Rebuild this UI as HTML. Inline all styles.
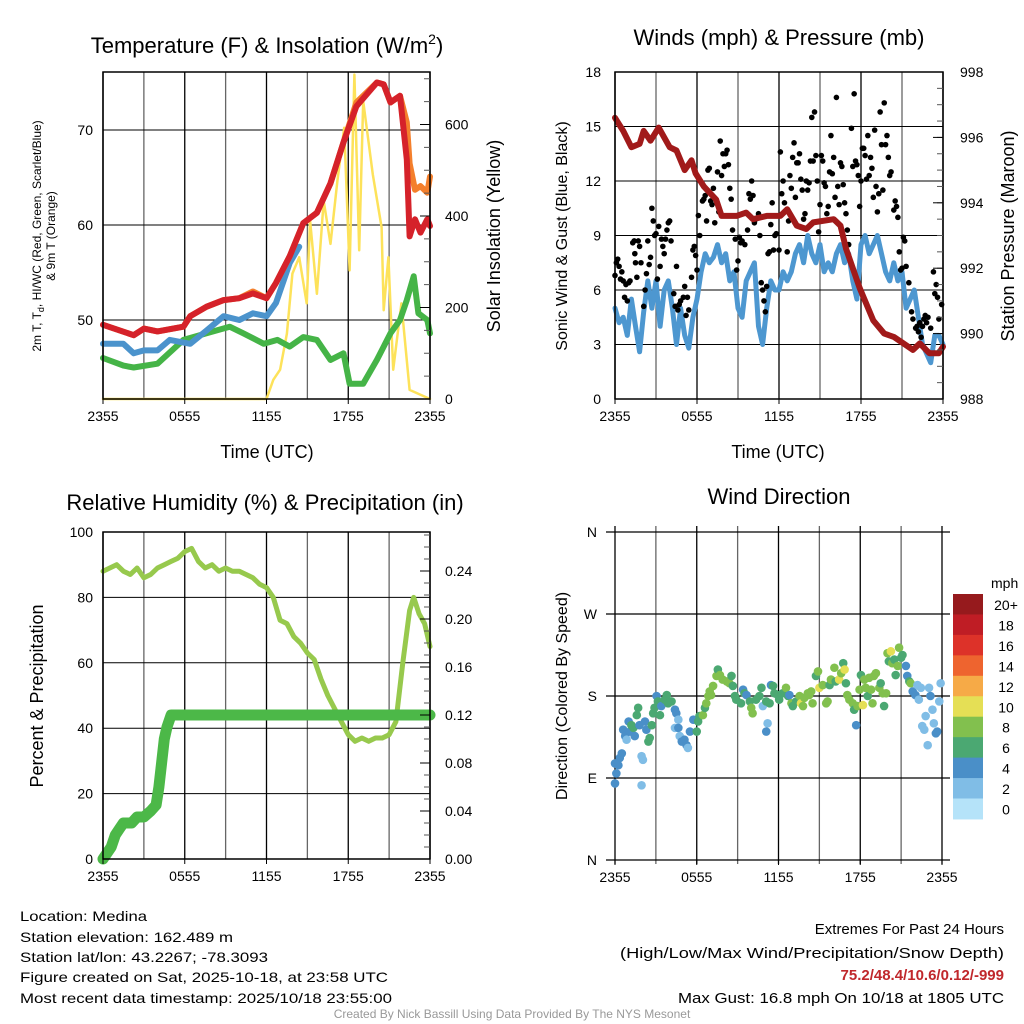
<!DOCTYPE html>
<html><head><meta charset="utf-8"><style>
html,body{margin:0;padding:0;background:#fff;}
svg{display:block;font-family:"Liberation Sans",sans-serif;}
</style></head><body>
<svg id="c" width="1024" height="1024" viewBox="0 0 1024 1024" xmlns="http://www.w3.org/2000/svg">
<rect width="1024" height="1024" fill="#fff"/>
<g id="p1"></g>
<g id="p2"></g>
<g id="p3"></g>
<g id="p4"></g>
<g id="txt">
<text x="267" y="53" font-size="22" text-anchor="middle">Temperature (F) &amp; Insolation (W/m<tspan dy="-9" font-size="14">2</tspan><tspan dy="9">)</tspan></text>
<text x="779" y="45" font-size="22" text-anchor="middle">Winds (mph) &amp; Pressure (mb)</text>
<text x="265" y="510" font-size="22" text-anchor="middle">Relative Humidity (%) &amp; Precipitation (in)</text>
<text x="779" y="504" font-size="22" text-anchor="middle">Wind Direction</text>
<text x="267" y="458" font-size="18" text-anchor="middle">Time (UTC)</text>
<text x="778" y="458" font-size="18" text-anchor="middle">Time (UTC)</text>
<text transform="translate(41,236) rotate(-90)" font-size="12" text-anchor="middle">2m T, T<tspan font-size="9" dy="3">d</tspan><tspan dy="-3">, HI/WC (Red, Green, Scarlet/Blue)</tspan></text>
<text transform="translate(55,236) rotate(-90)" font-size="12" text-anchor="middle">&amp; 9m T (Orange)</text>
<text transform="translate(500,236) rotate(-90)" font-size="18" text-anchor="middle">Solar Insolation (Yellow)</text>
<text transform="translate(567,236) rotate(-90)" font-size="16" text-anchor="middle">Sonic Wind &amp; Gust (Blue, Black)</text>
<text transform="translate(1014,236) rotate(-90)" font-size="18" text-anchor="middle">Station Pressure (Maroon)</text>
<text transform="translate(43,696) rotate(-90)" font-size="18" text-anchor="middle">Percent &amp; Precipitation</text>
<text transform="translate(567,696) rotate(-90)" font-size="16" text-anchor="middle">Direction (Colored By Speed)</text>
<g font-size="14">
<text x="20" y="921" textLength="127" lengthAdjust="spacingAndGlyphs">Location: Medina</text>
<text x="20" y="942" textLength="213" lengthAdjust="spacingAndGlyphs">Station elevation: 162.489 m</text>
<text x="20" y="962" textLength="248" lengthAdjust="spacingAndGlyphs">Station lat/lon: 43.2267; -78.3093</text>
<text x="20" y="982" textLength="368" lengthAdjust="spacingAndGlyphs">Figure created on Sat, 2025-10-18, at 23:58 UTC</text>
<text x="20" y="1003" textLength="372" lengthAdjust="spacingAndGlyphs">Most recent data timestamp: 2025/10/18 23:55:00</text>
</g>
<g font-size="15" text-anchor="end">
<text x="1004" y="934">Extremes For Past 24 Hours</text>
<text x="1004" y="958" textLength="384" lengthAdjust="spacingAndGlyphs">(High/Low/Max Wind/Precipitation/Snow Depth)</text>
<text x="1004" y="980" font-weight="bold" fill="#c0282c">75.2/48.4/10.6/0.12/-999</text>
<text x="1004" y="1003" textLength="326" lengthAdjust="spacingAndGlyphs">Max Gust: 16.8 mph On 10/18 at 1805 UTC</text>
</g>
<text x="512" y="1018" font-size="12" fill="#999" text-anchor="middle">Created By Nick Bassill Using Data Provided By The NYS Mesonet</text>
</g>
</svg>
<script>
const NS="http://www.w3.org/2000/svg";
// ---- data ----
const xTickLabels=["2355","0555","1155","1755","2355"];
const tempHours=[0,2.25,3,4,5.9,6.4,7.6,8.85,10,11,12,12.7,13.7,14.7,15.7,16.7,17.65,18.6,20.1,20.6,21.1,21.8,22.3,22.5,22.9,23.3,23.8,24];
const tempRed=[49.5,48.4,49.1,48.8,49.3,50.4,51.4,52.1,52.3,52.8,52.3,53.9,56.7,60.2,61.3,64.4,68.7,72.5,75,74.8,72.9,73.6,66.9,58.8,60.6,59.2,60.6,59.9];
const temp9m=[49.5,48.4,49.1,48.8,49.3,50.4,51.4,52.1,52.3,53.0,52.3,53.9,56.7,60.2,61.3,64.4,68.7,72.9,75,74.8,72.9,73.6,70.8,66.5,63.7,64.1,63.4,65.1];
const hiHours=[0,1.5,2.25,3,4,4.9,6.4,7.6,8.85,10,11,12,12.7,13.7,14.4];
const hiVals=[47.5,47.5,46.5,46.8,46.8,47.9,47.5,48.9,50.4,50,50.7,50.4,51.8,56,57.7];
const dewHours=[0,1.5,2.25,4,5.9,7.6,9.3,10.3,11.8,12.8,13.7,14.7,15.7,16.7,17.65,18.1,19.1,20.1,21.1,21.8,22.3,22.8,23.15,23.8,24];
const dewVals=[46,45.2,45,45.4,47.9,48.6,49.3,48.6,47.5,47.9,47.2,48.2,47.9,45.8,46.5,43.3,43.3,45.8,48.6,50,52.1,54.6,50.7,50,48.6];
const solHours=[0,11.5,12.0,12.5,13.0,13.5,13.9,14.4,14.95,15.2,15.7,16.2,16.7,17.2,17.7,18.1,18.45,18.8,19.1,19.8,20.45,20.6,20.95,21.3,21.9,22.5,24];
const solVals=[0,0,0,42,64,143,274,310,209,390,230,433,339,477,593,281,709,325,651,491,375,194,310,64,209,20,0];
const windHours=[0,0.3,0.6,0.9,1.2,1.5,1.8,2.1,2.4,2.7,3,3.3,3.6,3.9,4.2,4.5,4.8,5.1,5.4,5.7,6,6.3,6.6,6.9,7.2,7.5,7.8,8.1,8.4,8.7,9,9.3,9.6,9.9,10.2,10.5,10.8,11.1,11.4,11.7,12,12.3,12.6,12.9,13.2,13.5,13.8,14.1,14.4,14.7,15,15.3,15.6,15.9,16.2,16.5,16.8,17.1,17.4,17.7,18,18.3,18.6,18.9,19.2,19.5,19.8,20.1,20.4,20.7,21,21.3,21.6,21.9,22.2,22.5,22.8,23.1,23.4,23.7,24];
const windVals=[5,4.2,4.5,3.5,5.5,4,2.6,4.8,6.5,5,6.5,4,6,6.5,5,3,5,3.5,2.8,4.5,5.5,7,8,7.5,7.8,8.5,7.5,8,6.5,7,5,4.5,6.5,7,7.5,4,3,5,6.5,6,6,7,6.5,7,8,8.5,7.5,9,8,7.5,8.5,7,7.5,7,8,8.5,7.5,8,6.5,5.5,8.5,9,8,8.5,9,8,7,6.5,7.5,6.5,7,5,5.5,6,4.5,3,2.5,2,3.5,3.5,3];
const gustHours=[0,0.1,0.2,0.3,0.4,0.5,0.6,0.7,0.8,0.9,1,1.1,1.3,1.4,1.45,1.5,1.6,1.7,1.8,1.9,2.1,2.2,2.3,2.4,2.5,2.6,2.7,2.8,2.9,3,3.1,3.2,3.3,3.4,3.5,3.6,3.7,3.8,3.9,4,4.1,4.3,4.4,4.5,4.6,4.7,4.8,5,5.1,5.2,5.3,5.4,5.6,5.7,5.8,5.9,6,6.1,6.2,6.4,6.5,6.6,6.7,6.8,6.9,7,7.1,7.2,7.3,7.5,7.6,7.7,7.8,7.9,8,8.1,8.2,8.3,8.4,8.5,8.6,8.8,8.9,9,9.1,9.2,9.3,9.5,9.7,9.8,9.9,10,10.1,10.2,10.3,10.5,10.6,10.7,10.8,10.9,11,11.1,11.2,11.3,11.4,11.5,11.6,11.7,11.8,12,12.1,12.2,12.3,12.4,12.6,12.7,12.8,12.9,13,13.1,13.2,13.3,13.4,13.5,13.6,13.7,13.8,13.9,14,14.1,14.2,14.3,14.4,14.5,14.6,14.7,14.8,14.9,15,15.1,15.2,15.3,15.4,15.5,15.6,15.7,15.8,15.9,16,16.1,16.2,16.3,16.4,16.5,16.6,16.7,16.8,16.9,17,17.1,17.3,17.4,17.5,17.6,17.7,17.8,17.9,18,18.1,18.2,18.3,18.4,18.5,18.6,18.7,18.8,18.9,19,19.1,19.2,19.3,19.4,19.5,19.6,19.7,19.8,19.9,20,20.1,20.2,20.4,20.5,20.6,20.7,20.8,20.9,21,21.1,21.2,21.3,21.5,21.7,21.8,22,22.1,22.2,22.3,22.4,22.5,22.6,22.7,22.8,22.9,23.1,23.3,23.4,23.5,23.6,23.7,23.9];
const gustVals=[6.8,7.5,7.7,7.3,6.6,7,6.5,5.6,6.3,5.4,6.4,6.5,8.6,8.7,8,7.5,6.7,8.7,8.4,7.5,5.1,6,6.9,8.7,7.4,7.8,10.5,9.8,9,9.1,6.6,9.5,7.3,8.8,8.4,8,8.8,9.3,9.7,9.8,8.7,5.8,5.1,7.3,4.9,5.2,5.4,5.6,6.2,4.6,5.6,4.9,6.7,8.2,8.4,7.9,7.1,10.1,9,10.9,11,11.2,9.8,12.6,12.7,10.9,10.7,11.6,9.7,12.5,10.3,14.2,12.3,13.5,12.8,13.5,13.7,12.9,11.6,11,9.3,8.8,7.1,7.6,8.9,8.6,8.7,8.5,9.3,11.3,11,12,11.2,9.7,9.9,10.2,9,6.4,6,5.4,4.8,6.2,8,8.1,9.6,10.8,8.2,9,9.1,8.2,13.6,11.3,12,10.8,8.1,9.8,12.3,11.6,13.3,14.1,11.1,13,13,13.5,12.1,11.5,9.9,10.2,12,11.5,11.9,13.1,15.5,13.1,15.8,13.4,12,9.2,10.7,13.4,13.1,11.9,11.7,10.2,10.6,12.5,14.5,12.4,13.3,11.1,16.6,11.7,10.7,13,12.8,11.8,10.8,10.2,9.3,8.5,14.9,12.8,16.8,13.1,12.9,12.3,10.6,12,13.8,13.8,13.4,12.1,14.5,12.3,13.3,12.7,11.1,14.8,11.7,10.3,11.3,15.8,14,11.5,16.3,14,14.5,13.3,12.3,12.5,10.4,10.9,10.6,10,8.1,7.1,7.2,8.9,8.7,7.3,6.4,4.8,4.4,3.9,4,3.7,4.2,3.4,4,4.4,4.6,4.2,4.5,3.9,7,5.8,6.3,5.6,4.4,5.2];
const presHours=[0,0.6,1.2,1.8,2.1,2.6,3.2,4,4.5,5.1,5.6,5.9,6.5,7.4,7.8,8.9,9.6,10.1,11.1,12.1,12.6,13.3,14.0,14.5,16.0,16.5,16.9,17.9,18.9,19.7,20.4,21.1,21.8,22.3,23.0,23.7,24];
const presVals=[996.6,996.2,995.7,995.8,996.2,995.9,996.3,995.7,995.6,995.0,995.3,994.9,994.5,994.1,993.6,993.6,993.7,993.5,993.6,993.6,993.8,993.3,993.2,993.4,993.5,993.3,992.6,991.4,990.4,990.0,989.9,989.7,989.5,989.7,989.4,989.4,989.6];
const rhHours=[0,0.5,1,1.5,2,2.5,3,3.5,4,4.5,5,5.5,6,6.5,7,7.5,8,8.5,9,9.5,10,10.5,11,11.5,12,12.5,13,13.5,14,14.5,15,15.5,16,16.5,17,17.5,18,18.5,19,19.5,20,20.5,21,21.5,22,22.5,22.8,23.2,23.6,24];
const rhVals=[88,89,90,88,87,89,86,87,89,90,91,92,94,95,91,89,90,88,89,88,88,87,86,84,83,80,73,72,68,66,63,61,55,50,46,42,38,36,37,36,37,37,38,42,60,76,80,75,72,65];
const pcpHours=[0,0.3,0.6,0.9,1.2,1.5,1.8,2.1,2.5,3,3.5,3.9,4.1,4.3,4.5,4.7,5,24];
const pcpVals=[0,0.005,0.01,0.02,0.025,0.03,0.03,0.03,0.035,0.035,0.04,0.045,0.06,0.08,0.1,0.11,0.12,0.12];
const dirHours=[0,0,0.1,0.25,0.35,0.5,0.6,0.75,0.85,1,1.1,1.2,1.35,1.45,1.6,1.7,1.8,1.95,2.05,1.95,2.2,2.3,2.45,2.55,2.7,2.8,2.9,3.05,3.15,3.3,3.4,3.65,3.8,3.9,4.15,4.4,4.5,4.4,4.65,4.65,4.75,4.9,5.1,5.25,5.35,5.5,5.75,6,6.1,6.2,6.45,6.6,6.7,6.85,6.95,7.05,7.2,7.45,7.55,7.7,7.9,8.2,8.4,8.55,8.65,8.8,8.9,9.25,9.4,9.5,9.65,9.9,10,10.1,10.35,10.6,10.75,10.85,11.1,11.2,11.1,11.35,11.45,11.6,11.7,11.95,12.05,12.3,12.55,12.7,12.8,12.95,13.05,13.3,13.55,13.65,13.8,13.9,14.15,14.25,14.4,14.5,14.75,14.9,15,15.25,15.5,15.6,15.75,15.85,16.1,16.2,16.45,16.6,16.75,16.85,16.95,17.05,17.2,17.45,17.55,17.7,17.8,17.95,18.05,18.2,18.3,18.4,18.55,18.65,18.8,18.9,19,19.15,19.4,19.5,19.65,19.75,19.9,20,20.1,20.25,20.35,20.5,20.6,20.75,20.85,21,21.1,21.35,21.45,21.6,21.7,21.85,22.05,22.2,22.3,22.45,22.55,22.7,22.8,22.95,23.05,23.15,23.3,23.4,23.55,23.65,23.8,23.9];
const dirDeg=[106,84,95,104,112,117,143,136,132,152,141,148,145,136,159,167,148,114,110,82,152,143,130,134,148,161,167,180,174,159,169,176,181,172,174,165,161,145,154,145,136,130,132,126,123,141,154,141,152,158,159,167,172,180,185,181,191,202,209,203,198,196,194,202,191,180,176,172,187,183,181,174,167,161,176,180,189,169,174,150,141,172,192,191,183,181,176,183,189,180,181,172,169,174,180,172,169,178,183,181,185,172,202,207,189,192,172,174,192,198,211,196,198,205,216,209,194,181,176,172,165,148,169,187,203,170,198,189,180,200,187,172,202,205,189,194,183,169,183,227,218,229,216,220,203,213,233,222,225,213,202,196,194,185,181,192,176,189,147,143,158,126,189,180,165,150,139,141,174,194];
const dirSpeed=[5,5,5,5,5,5,5,5,3,5,5,7,7,5,7,7,5,3,3,3,5,5,7,7,7,7,7,5,7,7,5,7,7,7,7,5,5,3,3,5,3,5,5,5,3,5,5,7,7,7,9,7,9,9,9,9,9,9,7,9,9,9,9,7,7,7,7,7,5,7,5,7,9,9,7,7,7,3,7,3,5,7,5,7,7,7,7,7,9,7,5,9,7,7,9,11,9,9,9,9,9,9,7,9,11,9,9,9,7,9,9,7,11,9,7,11,7,9,9,9,7,5,9,9,7,11,9,9,7,9,9,9,9,9,9,7,9,7,9,9,7,11,9,7,7,9,9,7,7,5,5,7,9,5,5,3,3,3,3,3,3,3,3,5,3,3,5,5,3,3];
const speedBins=[0,2,4,6,8,10,12,14,16,18,20];
const speedColors=["#b5e3f9","#80bde6","#4a8fc8","#4ba872","#82c04e","#e5df55","#f6aa47","#ee642f","#dd3229","#bf1d25","#961a1d"];
// ---- helpers ----
function el(tag,attrs,parent){const e=document.createElementNS(NS,tag);for(const k in attrs)e.setAttribute(k,attrs[k]);parent.appendChild(e);return e;}
function lin(d0,d1,r0,r1){return v=>r0+(v-d0)*(r1-r0)/(d1-d0);}
function poly(xs,ys,sx,sy){return xs.map((h,i)=>sx(h).toFixed(1)+","+sy(ys[i]).toFixed(1)).join(" ");}
function frame(g,L,R,T,B,nV,hLines){
  for(let i=0;i<=nV;i++){const x=L+(R-L)*i/nV;const ln=el("line",{x1:x,x2:x,y1:T,y2:B,stroke:i%2?"#666":"#000","stroke-width":1.3},g);
    }
  hLines.forEach(y=>{const ln=el("line",{x1:L,x2:R,y1:y,y2:y,stroke:"#000","stroke-width":1},g);
    });
}
function border(g,L,R,T,B){const r=el("rect",{x:L,y:T,width:R-L,height:B-T,fill:"none",stroke:"#000","stroke-width":1.5},g);
  }
function xTicks(g,L,R,B){xTickLabels.forEach((t,i)=>{const x=L+(R-L)*i/4;
  el("line",{x1:x,x2:x,y1:B,y2:B+5,stroke:"#000"},g);
  const tx=el("text",{x:x,y:B+22,"font-size":14,"text-anchor":"middle"},g);tx.textContent=t;
  });}
function yLeft(g,x,vals,sy,fmt){vals.forEach(v=>{const y=sy(v);
  const t=el("text",{x:x,y:y+5,"font-size":14,"text-anchor":"end"},g);t.textContent=fmt(v);
  });}
function yRight(g,R,x,vals,sy,fmt,minor){minor.forEach(v=>{const y=sy(v);el("line",{x1:R-6,x2:R,y1:y,y2:y,stroke:"#555"},g);});
  vals.forEach(v=>{const y=sy(v);el("line",{x1:R-10,x2:R,y1:y,y2:y,stroke:"#000"},g);
  const t=el("text",{x:x,y:y+5,"font-size":14,"text-anchor":"start"},g);t.textContent=fmt(v);
  });}
function range(a,b,s){const r=[];for(let v=a;v<=b+1e-9;v+=s)r.push(+v.toFixed(4));return r;}
function line(g,xs,ys,sx,sy,color,w,name){const p=el("polyline",{points:poly(xs,ys,sx,sy),fill:"none",stroke:color,"stroke-width":w,"stroke-linejoin":"round","stroke-linecap":"round"},g);
  return p;}
// ---- panel 1 ----
(function(){const g=document.getElementById("p1");const L=103,R=430,T=72,B=399;
  const sx=lin(0,24,L,R),sy=lin(50,60,320,225),sr=lin(0,200,399,307.5);
  frame(g,L,R,T,B,8,[sy(50),sy(60),sy(70)]);
  line(g,solHours,solVals,sx,sr,"#fde25a",2.5,"insolation-line");
  line(g,dewHours,dewVals,sx,sy,"#45b447",6,"dewpoint-line");
  line(g,hiHours,hiVals,sx,sy,"#4b93cc",6,"heat-index-line");
  line(g,tempHours,temp9m,sx,sy,"#f47f2c",6,"temp-9m-line");
  line(g,tempHours,tempRed,sx,sy,"#d5222a",6,"temp-2m-line");
  border(g,L,R,T,B);xTicks(g,L,R,B);
  yLeft(g,L-10,[50,60,70],sy,v=>v);
  yRight(g,R,R+15,[0,200,400,600],sr,v=>v,range(0,700,50));
})();
// ---- panel 2 ----
(function(){const g=document.getElementById("p2");const L=615,R=943,T=72,B=399;
  const sx=lin(0,24,L,R),sy=lin(0,18,B,T),sp=lin(988,998,B,T);
  frame(g,L,R,T,B,8,[3,6,9,12,15].map(sy));
  line(g,windHours,windVals,sx,sy,"#4d97d0",5,"wind-speed-line");
  gustHours.forEach((h,i)=>{const c=el("circle",{cx:sx(h),cy:sy(gustVals[i]),r:2.8,fill:"#000"},g);
    });
  line(g,presHours,presVals,sx,sp,"#a11a1a",6,"pressure-line");
  border(g,L,R,T,B);xTicks(g,L,R,B);
  yLeft(g,L-14,[0,3,6,9,12,15,18],sy,v=>v);
  yRight(g,R,R+17,[988,990,992,994,996,998],sp,v=>v,range(988,998,0.5));
})();
// ---- panel 3 ----
(function(){const g=document.getElementById("p3");const L=103,R=430,T=532,B=859;
  const sx=lin(0,24,L,R),sy=lin(0,100,B,T),sp=lin(0,0.04,B,811);
  frame(g,L,R,T,B,8,[20,40,60,80].map(sy));
  line(g,rhHours,rhVals,sx,sy,"#97c94d",5,"rh-line");
  line(g,pcpHours,pcpVals,sx,sp,"#4cb848",11,"precip-line");
  border(g,L,R,T,B);xTicks(g,L,R,B);
  yLeft(g,L-10,[0,20,40,60,80,100],sy,v=>v);
  yRight(g,R,R+15,[0,0.04,0.08,0.12,0.16,0.2,0.24],sp,v=>v.toFixed(2),range(0,0.27,0.01));
})();
// ---- panel 4 ----
(function(){const g=document.getElementById("p4");const L=615,R=942,T=532,B=860;
  const sx=lin(0,24,L,R),sy=lin(0,360,B,T);
  for(let i=0;i<=8;i++){const x=L+(R-L)*i/8;const ln=el("line",{x1:x,x2:x,y1:T-6,y2:B+4,stroke:i%2?"#666":"#000","stroke-width":1.3},g);
    }
  [0,90,180,270,360].forEach(d=>{const y=sy(d);const ln=el("line",{x1:L-9,x2:R+8,y1:y,y2:y,stroke:"#000","stroke-width":1.2},g);
    });
  const lab=["N","E","S","W","N"];
  [0,90,180,270,360].forEach((d,i)=>{const t=el("text",{x:L-18,y:sy(d)+5,"font-size":14,"text-anchor":"end"},g);t.textContent=lab[i];
    });
  dirHours.forEach((h,i)=>{let k=0;for(let j=0;j<speedBins.length;j++)if(dirSpeed[i]>=speedBins[j])k=j;
    const c=el("circle",{cx:sx(h),cy:sy(dirDeg[i]),r:4.3,fill:speedColors[k]},g);
    });
  xTicks(g,L,R,B);
  const cb=el("g",{},g);
  const top=594,bh=20.45;
  const ut=el("text",{x:991,y:588,"font-size":14},cb);ut.textContent="mph";
  
  speedColors.forEach((c,i)=>{const idx=speedColors.length-1-i;const y=top+i*bh;
    const r=el("rect",{x:953,y:y,width:30,height:bh+0.5,fill:speedColors[idx]},cb);
    
    const t=el("text",{x:1006,y:y+16,"font-size":14,"text-anchor":"middle"},cb);t.textContent=speedBins[idx]===20?"20+":speedBins[idx];
    });
})();
</script>
</body></html>
